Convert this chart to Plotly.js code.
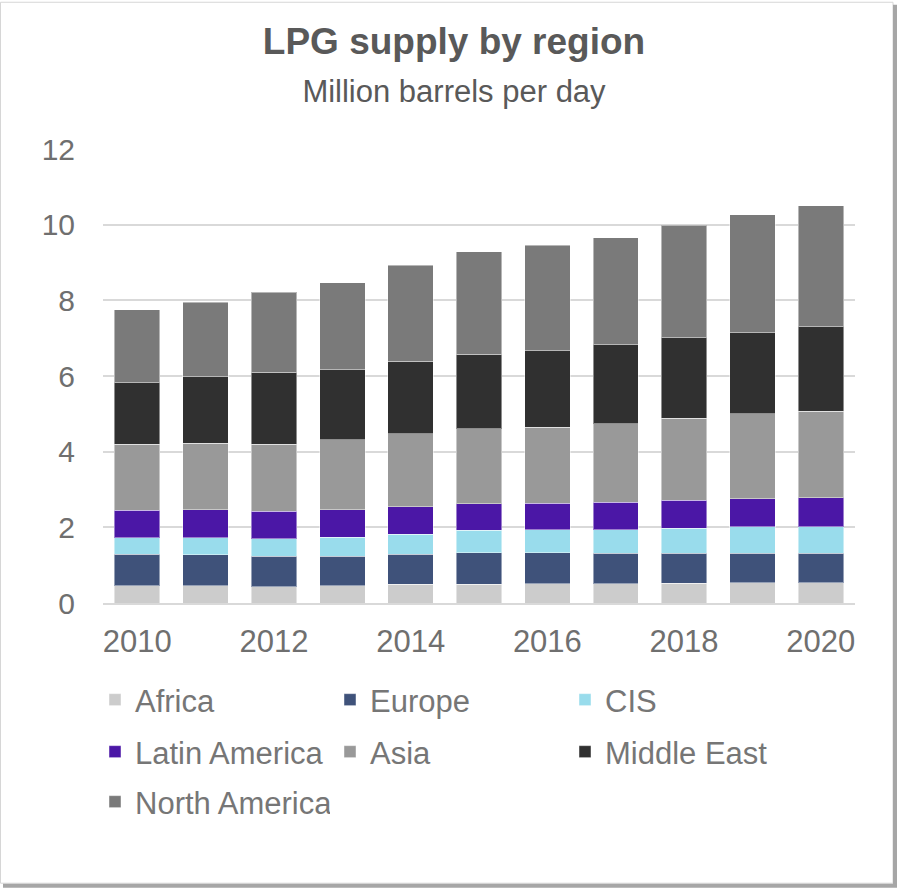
<!DOCTYPE html>
<html><head><meta charset="utf-8">
<script src="https://cdn.plot.ly/plotly-3.0.1.min.js"></script>
<style>html,body{margin:0;padding:0;background:#fff;} #chart{width:898px;height:890px;}</style>
</head><body><div id="chart"></div>
<script>
const years = ['2010','2011','2012','2013','2014','2015','2016','2017','2018','2019','2020'];
const tickYears = ['2010','2012','2014','2016','2018','2020'];
const yTicks = [0, 2, 4, 6, 8, 10, 12];

const africa       = [0.46, 0.46, 0.43, 0.45, 0.49, 0.50, 0.51, 0.51, 0.52, 0.53, 0.53];
const europe       = [0.83, 0.81, 0.80, 0.78, 0.80, 0.83, 0.82, 0.80, 0.79, 0.78, 0.78];
const cis          = [0.44, 0.46, 0.47, 0.51, 0.53, 0.59, 0.60, 0.62, 0.67, 0.70, 0.70];
const latinAmerica = [0.72, 0.73, 0.72, 0.72, 0.72, 0.70, 0.71, 0.73, 0.74, 0.74, 0.77];
const asia         = [1.74, 1.76, 1.78, 1.86, 1.93, 1.98, 2.01, 2.08, 2.17, 2.25, 2.29];
const middleEast   = [1.63, 1.76, 1.90, 1.85, 1.92, 1.98, 2.02, 2.09, 2.12, 2.14, 2.23];
const northAmerica = [1.93, 1.97, 2.12, 2.29, 2.54, 2.71, 2.78, 2.83, 2.98, 3.12, 3.20];

const seriesNames = ['Africa','Europe','CIS','Latin America','Asia','Middle East','North America'];
const seriesData = [africa, europe, cis, latinAmerica, asia, middleEast, northAmerica];
const seriesColors = ['#cccccc','#3f527a','#99dcec','#4b17a6','#999999','#303030','#7a7a7a'];
const seriesLegend = ['legend','legend','legend','legend2','legend2','legend2','legend3'];

const titleText = 'LPG supply by region';
const subtitleText = 'Million barrels per day';

const FONT = 'Liberation Sans, Arial, sans-serif';
const W = 898, H = 890;
const M = {l: 103, r: 43, t: 148.5, b: 286.7};
const pw = W - M.l - M.r, ph = H - M.t - M.b;
const px = v => (v - M.l) / pw;
const py = v => (H - M.b - v) / ph;

const traces = seriesNames.map((n, i) => ({
  type: 'bar', name: n, x: years, y: seriesData[i],
  marker: {color: seriesColors[i], line: {color: 'rgba(255,255,255,0.45)', width: 1}},
  legend: seriesLegend[i], hoverinfo: 'x+y+name'
}));

const legendBase = {
  orientation: 'h', xref: 'container', yref: 'container', xanchor: 'left', yanchor: 'middle',
  x: 95 / W, entrywidth: 190, entrywidthmode: 'pixels',
  font: {family: FONT, size: 31, color: '#767676'}, bgcolor: 'rgba(0,0,0,0)', borderwidth: 0,
  traceorder: 'normal', itemclick: false, itemdoubleclick: false
};

const layout = {
  width: W, height: H, margin: M,
  paper_bgcolor: '#ffffff', plot_bgcolor: '#ffffff',
  font: {family: FONT, color: '#6f6f6f'},
  barmode: 'stack', bargap: 0.335,
  title: {
    text: '<b>' + titleText + '</b><br><span style="font-size:31px">' + subtitleText + '</span>',
    font: {family: FONT, size: 37, color: '#595959'},
    x: 454 / W, xref: 'container', xanchor: 'center', y: 1 - 54 / H, yref: 'container', yanchor: 'top'
  },
  xaxis: {
    type: 'category', tickmode: 'array', tickvals: tickYears, ticktext: tickYears,
    tickfont: {family: FONT, size: 31, color: '#6f6f6f'}, showgrid: false,
    showline: true, linecolor: '#d9d9d9', linewidth: 2, ticks: '', ticklabelstandoff: 10, fixedrange: true
  },
  yaxis: {
    range: [0, 12], tickmode: 'array', tickvals: yTicks, ticktext: yTicks.map(String),
    tickfont: {family: FONT, size: 30, color: '#6f6f6f'},
    showgrid: true, gridcolor: '#d9d9d9', gridwidth: 2, zeroline: false,
    showline: false, ticks: '', ticklabelstandoff: 27, fixedrange: true
  },
  legend:  Object.assign({}, legendBase, {y: 1 - 700 / H}),
  legend2: Object.assign({}, legendBase, {y: 1 - 752 / H}),
  legend3: Object.assign({}, legendBase, {y: 1 - 802 / H}),
  shapes: [
    {type: 'rect', xref: 'paper', yref: 'paper', x0: px(0.5), x1: px(893), y0: py(884), y1: py(1.5),
     line: {color: '#d6d6d6', width: 1}, layer: 'below'},
    {type: 'line', xref: 'paper', yref: 'paper', x0: px(895), x1: px(895), y0: py(887), y1: py(4),
     line: {color: '#a6a6a6', width: 4}},
    {type: 'line', xref: 'paper', yref: 'paper', x0: px(3), x1: px(897), y0: py(886.5), y1: py(886.5),
     line: {color: '#a6a6a6', width: 4}}
  ]
};

Plotly.newPlot('chart', traces, layout, {displayModeBar: false});
</script>
</body></html>
